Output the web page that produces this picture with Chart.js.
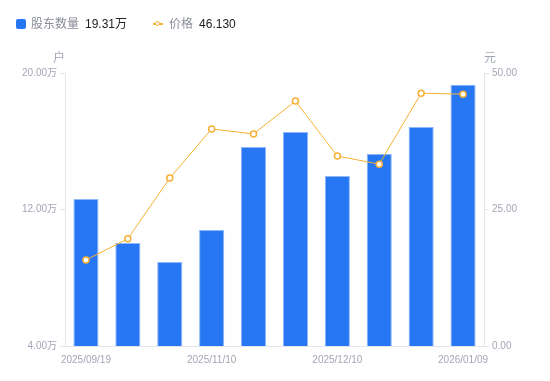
<!DOCTYPE html>
<html>
<head>
<meta charset="utf-8">
<script src="https://cdn.jsdelivr.net/npm/chart.js"></script>
<style>
  html, body { margin: 0; padding: 0; background: #fff; overflow: hidden; }
  #wrap { position: relative; width: 550px; height: 381px; font-family: "Liberation Sans", Arial, "Noto Sans CJK SC", sans-serif; }
  #myChart { position: absolute; left: 0; top: 0; display: block; }
  #legend { position: absolute; left: 16px; top: 16px; font-size: 12px; line-height: 16px; display: flex; z-index: 1; }
  .item { display: flex; align-items: center; margin-right: 26px; }
  .sq { width: 10px; height: 10px; background: #2777f5; border-radius: 2px; margin-right: 5px; }
  .ln { position: relative; width: 10px; height: 2px; background: #f7b034; margin-right: 6px; }
  .ln::after { content: ""; position: absolute; left: 2px; top: -2px; width: 3px; height: 3px; border: 1.5px solid #f7b034; border-radius: 50%; background: #fff; }
  .name { color: #8a8d99; margin-right: 6px; }
  .val { color: #222; }
</style>
</head>
<body>
<div id="wrap">
  <canvas id="myChart" width="550" height="381"></canvas>
  <div id="legend">
    <div class="item"><span class="sq"></span><span class="name">股东数量</span><span class="val" id="v1"></span></div>
    <div class="item"><span class="ln"></span><span class="name">价格</span><span class="val" id="v2"></span></div>
  </div>
</div>
<script>
// dates of each report (only every third one is labelled)
var dates = ['2025/09/19', '2025/09/30', '2025/10/20', '2025/11/10', '2025/11/20',
             '2025/11/28', '2025/12/10', '2025/12/19', '2025/12/31', '2026/01/09'];
// shareholders, in 万户
var holders = [12.62, 10.04, 8.92, 10.80, 15.66, 16.54, 13.96, 15.25, 16.84, 19.31];
// price, 元
var price = [15.75, 19.65, 30.75, 39.75, 38.85, 44.85, 34.80, 33.30, 46.30, 46.13];
var leftTicks = [4, 12, 20];
var rightTicks = [0, 25, 50];

document.getElementById('v1').textContent = holders[holders.length - 1].toFixed(2) + '万';
document.getElementById('v2').textContent = price[price.length - 1].toFixed(3);

var grey = '#a3a6b4';
var axisLine = '#e3e5ea';
var font = { family: '"Liberation Sans", Arial, "Noto Sans CJK SC", sans-serif', size: 10 };

// draw the unit captions above the two y axes
var unitTitles = {
    id: 'unitTitles',
    afterDraw: function(chart) {
        var c = chart.ctx, a = chart.chartArea;
        c.save();
        c.fillStyle = grey;
        c.font = '12px "Noto Sans CJK SC", sans-serif';
        c.textAlign = 'center';
        c.textBaseline = 'middle';
        c.fillText('户', a.left - 6, a.top - 16);
        c.fillText('元', a.right + 6, a.top - 16);
        c.restore();
    }
};

new Chart(document.getElementById('myChart'), {
    data: {
        labels: dates,
        datasets: [{
            type: 'line',
            label: '价格',
            data: price,
            yAxisID: 'y1',
            borderColor: '#f7b034',
            borderWidth: 1,
            pointRadius: 3,
            pointBorderWidth: 1.5,
            pointBackgroundColor: '#fff',
            pointBorderColor: '#f7b034',
            tension: 0,
            order: 0
        }, {
            type: 'bar',
            label: '股东数量',
            data: holders,
            yAxisID: 'y',
            backgroundColor: '#2777f5',
            borderColor: '#8fb7f9',
            borderWidth: { top: 1, left: 1, right: 1, bottom: 0 },
            borderSkipped: 'bottom',
            categoryPercentage: 0.6,
            barPercentage: 1,
            order: 1
        }]
    },
    options: {
        responsive: false,
        animation: false,
        layout: { padding: { top: 73, left: 0, right: 0, bottom: 14 } },
        plugins: { legend: { display: false }, tooltip: { enabled: false } },
        scales: {
            x: {
                grid: { display: false },
                border: { color: axisLine },
                ticks: {
                    color: grey, font: font, autoSkip: false, maxRotation: 0, padding: 0,
                    callback: function(v, i) { return i % 3 === 0 ? dates[i] : ''; }
                },
                afterFit: function(s) { s.height = 21; }
            },
            y: {
                position: 'left',
                min: 4, max: 20,
                afterBuildTicks: function(s) { s.ticks = leftTicks.map(function(v) { return { value: v }; }); },
                grid: { drawOnChartArea: false, tickLength: 5, color: axisLine },
                border: { color: axisLine },
                ticks: { color: grey, font: font, padding: 3,
                    callback: function(v) { return v.toFixed(2) + '万'; } },
                afterFit: function(s) { s.width = 65; }
            },
            y1: {
                position: 'right',
                min: 0, max: 50,
                afterBuildTicks: function(s) { s.ticks = rightTicks.map(function(v) { return { value: v }; }); },
                grid: { drawOnChartArea: false, tickLength: 5, color: axisLine },
                border: { color: axisLine },
                ticks: { color: grey, font: font, padding: 3,
                    callback: function(v) { return v.toFixed(2); } },
                afterFit: function(s) { s.width = 66; }
            }
        }
    },
    plugins: [unitTitles]
});
</script>
</body>
</html>
